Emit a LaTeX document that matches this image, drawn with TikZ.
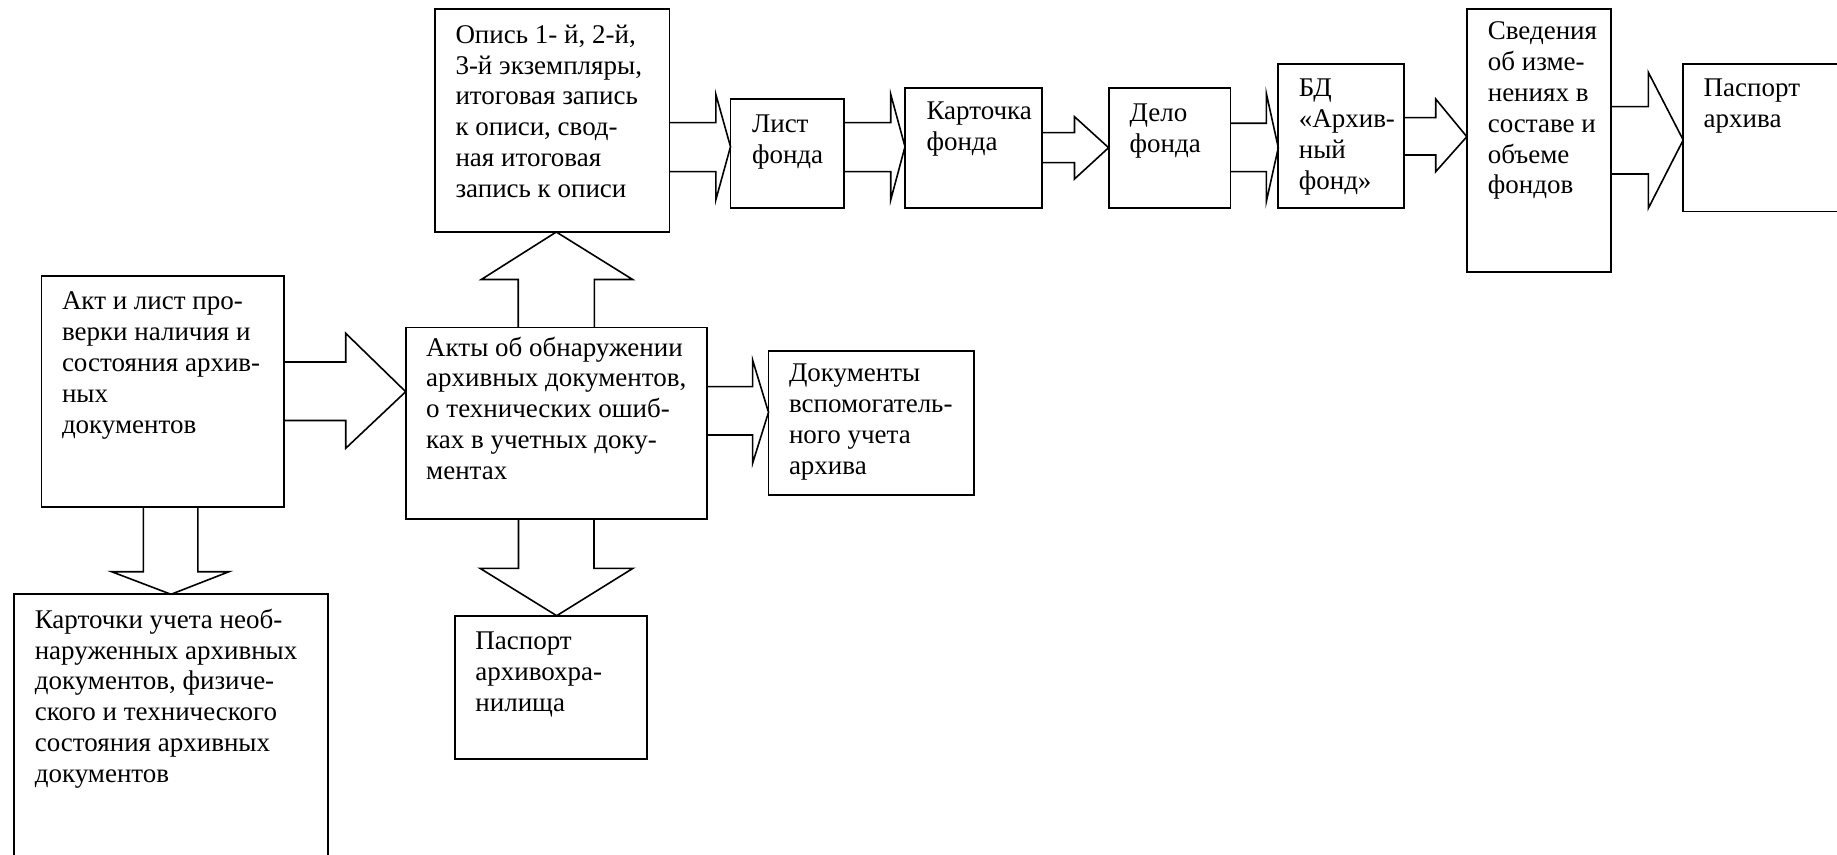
\documentclass[tikz,border=0pt]{standalone}
\usepackage{fontspec}
\setmainfont{Liberation Serif}
\usetikzlibrary{fit,calc}
\tikzset{
  box/.style={draw, line width=0.95pt, inner sep=0pt, outer sep=0pt},
  txt/.style={inner sep=0pt, outer sep=0pt, align=left, anchor=north west,
    font=\fontsize{13.5pt}{15.4pt}\selectfont},
  conn/.style={line width=0.8pt, line join=miter},
}
% horizontal block arrow: from, to, shaft y1, shaft y2, head base x, head top y, head bottom y, tip y
\newcommand\harrow[8]{\draw[conn] (#1.east |- 0,#3) -- (#5,#3) -- (#5,#6) -- (#2.west |- 0,#8) -- (#5,#7) -- (#5,#4) -- (#1.east |- 0,#4);}
% upward block arrow: from, to, shaft x1, shaft x2, head base y, head left x, head right x, tip x
\newcommand\uarrow[8]{\draw[conn] (#1.north -| #3,0) -- (#3,#5) -- (#6,#5) -- (#2.south -| #8,0) -- (#7,#5) -- (#4,#5) -- (#1.north -| #4,0);}
% downward block arrow
\newcommand\darrow[8]{\draw[conn] (#1.south -| #3,0) -- (#3,#5) -- (#6,#5) -- (#2.north -| #8,0) -- (#7,#5) -- (#4,#5) -- (#1.south -| #4,0);}
\begin{document}
\begin{tikzpicture}[x=0.5pt,y=-0.5pt]
\useasboundingbox (0,0) rectangle (1837,855);

% boxes
\node[box, fit={(435,9) (669.5,232)}] (opis) {};
\node[box, fit={(730.5,99) (844,208.3)}] (list) {};
\node[box, fit={(905,87.7) (1041.6,208.3)}] (kart) {};
\node[box, fit={(1108.6,88.3) (1230.5,208.3)}] (delo) {};
\node[box, fit={(1278.3,64) (1404.4,208.3)}] (bd) {};
\node[box, fit={(1466.8,9) (1611,271.7)}] (sved) {};
\node[box, fit={(1683.2,64) (1852,211.5)}] (pasp) {};
\node[box, fit={(41.5,275.7) (283.8,506.7)}] (akt) {};
\node[box, fit={(405.7,327.5) (706.6,519.3)}] (akty) {};
\node[box, fit={(768.5,350.7) (973.9,495)}] (dok) {};
\node[box, fit={(14.3,594.3) (328.1,870)}] (kartu) {};
\node[box, fit={(455.4,615.7) (647.3,759.3)}] (paspx) {};

% texts
\node[txt] (opist) at ($(opis.north west)+(20.5,12.7)$) {\strut Опись 1- й, 2-й,\\3-й экземпляры,\\итоговая запись\\к описи, свод-\\ная итоговая\\запись к описи};
\node[txt] (listt) at ($(list.north west)+(21.5,12.4)$) {\strut Лист\\фонда};
\node[txt] (kartt) at ($(kart.north west)+(21.5,10.7)$) {\strut Карточка\\фонда};
\node[txt] (delot) at ($(delo.north west)+(21,11.8)$) {\strut Дело\\фонда};
\node[txt] (bdt) at ($(bd.north west)+(20.5,11.1)$) {\strut БД\\«Архив-\\ный\\фонд»};
\node[txt] (svedt) at ($(sved.north west)+(21,9.4)$) {\strut Сведения\\об изме-\\нениях в\\составе и\\объеме\\фондов};
\node[txt] (paspt) at ($(pasp.north west)+(20.5,11.1)$) {\strut Паспорт\\архива};
\node[txt] (aktt) at ($(akt.north west)+(20.5,12.7)$) {\strut Акт и лист про-\\верки наличия и\\состояния архив-\\ных\\документов};
\node[txt] (aktyt) at ($(akty.north west)+(20.5,7)$) {\strut Акты об обнаружении\\архивных документов,\\о технических ошиб-\\ках в учетных доку-\\ментах};
\node[txt] (dokt) at ($(dok.north west)+(20.5,9.4)$) {\strut Документы\\вспомогатель-\\ного учета\\архива};
\node[txt] (kartut) at ($(kartu.north west)+(20.5,12.4)$) {\strut Карточки учета необ-\\наруженных архивных\\документов, физиче-\\ского и технического\\состояния архивных\\документов};
\node[txt] (paspxt) at ($(paspx.north west)+(20,12.7)$) {\strut Паспорт\\архивохра-\\нилища};

% block arrows
\harrow{opis}{list}{122.7}{171.7}{715.8}{94.3}{200}{146.7}
\harrow{list}{kart}{122.7}{171.7}{890.7}{94.3}{200}{146.7}
\harrow{kart}{delo}{132.7}{162.7}{1074.5}{116.7}{179}{147.7}
\harrow{delo}{bd}{123.3}{171.7}{1266.3}{93.3}{201.7}{147.7}
\harrow{bd}{sved}{117.7}{155}{1435.7}{99}{171.7}{136.7}
\harrow{sved}{pasp}{106.7}{174}{1648.3}{72.3}{208.3}{140}
\harrow{akt}{akty}{362}{420.5}{345.7}{333.3}{448.3}{391.7}
\harrow{akty}{dok}{386.7}{435}{752.6}{360}{463.3}{412.3}
\uarrow{akty}{opis}{518.2}{594.4}{279.5}{481.3}{632.6}{556.3}
\darrow{akt}{kartu}{143.3}{197.8}{571.7}{111.6}{229}{171}
\darrow{akty}{paspx}{518.5}{594}{568.3}{480}{633}{556.7}
\end{tikzpicture}
\end{document}
